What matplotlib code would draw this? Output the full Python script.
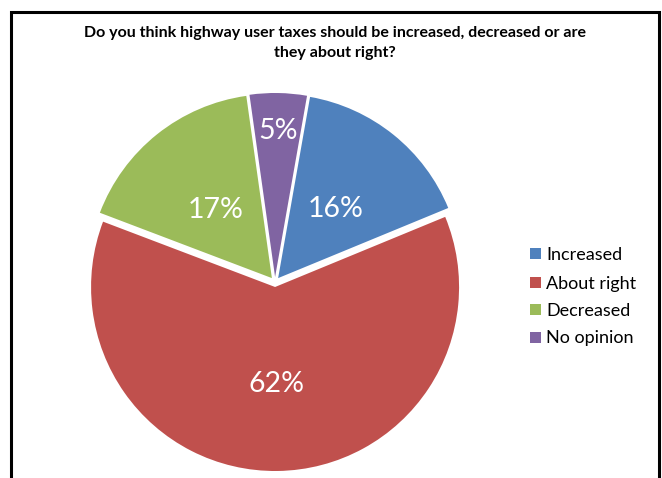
import matplotlib
matplotlib.use("Agg")
import matplotlib.pyplot as plt
from matplotlib.patches import Rectangle
import numpy as np

# Survey responses
categories = ["Increased", "About right", "Decreased", "No opinion"]
shares = [16, 62, 17, 5]
colors = ["#4F81BD", "#C0504D", "#9BBB59", "#8064A2"]
title_lines = ["Do you think highway user taxes should be increased, decreased or are",
               "they about right?"]

W, H = 662, 478
fig = plt.figure(figsize=(W / 100, H / 100), dpi=100)
ax = fig.add_axes([0, 0, 1, 1])

# Pie geometry in pixel units (y up); first slice starts 10 degrees past 12 o'clock
cx, cy, R = 275, H - 282, 184
start = 80
gap = 5.0
wedges, _ = ax.pie(
    shares,
    colors=colors,
    startangle=start,
    counterclock=False,
    radius=R,
    center=(cx, cy),
    explode=[gap] * len(shares),
    wedgeprops=dict(linewidth=0),
)
ax.set_xlim(0, W)
ax.set_ylim(0, H)
ax.set_aspect("auto")
ax.axis("off")

# Percentage labels on each wedge's bisector
label_frac = [0.50, 0.515, 0.49, 0.805]
font = "Lato"
for w, v, f in zip(wedges, shares, label_frac):
    mid = np.deg2rad((w.theta1 + w.theta2) / 2)
    x0, y0 = w.center
    x = x0 + f * R * np.cos(mid)
    y = y0 + f * R * np.sin(mid)
    ax.text(x, y, f"{v}%", color="white", fontsize=20.5, family=font,
            ha="center", va="center_baseline")

# Title, two centred lines
for i, line in enumerate(title_lines):
    ax.text(335, H - 36.5 - 20.5 * i, line, ha="center", va="baseline",
            fontsize=11.5, fontweight="bold", family=font)

# Legend
leg_y = [253, 282, 309, 337]
for lab, c, y in zip(categories, colors, leg_y):
    ax.add_patch(Rectangle((530, H - y - 5.5), 11, 11, facecolor=c, edgecolor="none"))
    ax.text(546, H - y, lab, fontsize=13, family=font, ha="left",
            va="center_baseline", color="black")

# Chart border (bottom edge lies below the canvas)
ax.plot([10.5, 10.5, 658.5, 658.5], [-5, H - 11.5, H - 11.5, -5],
        color="black", linewidth=2.2, solid_joinstyle="miter", clip_on=False)

fig.savefig("out.png", dpi=100)
